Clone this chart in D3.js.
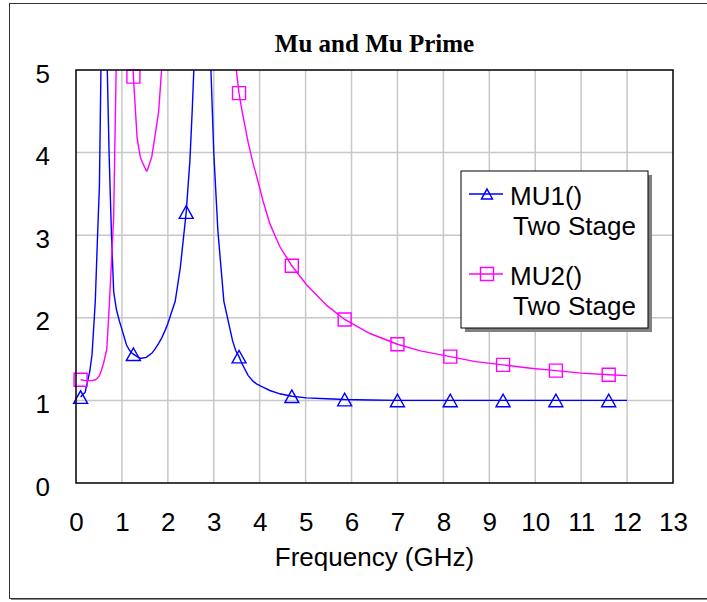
<!DOCTYPE html>
<html>
<head>
<meta charset="utf-8">
<script src="https://cdn.jsdelivr.net/npm/d3@7"></script>
<style>
  body { margin: 0; background: #fff; }
  svg { display: block; }
  text { font-family: "Liberation Sans", Arial, sans-serif; fill: #000; }
  .title { font-family: "Liberation Serif", "Times New Roman", serif; font-weight: bold; }
</style>
</head>
<body>
<svg id="chart"></svg>
<script>
// data (GHz, value)
const freq = [0.1, 0.2, 0.3, 0.35, 0.42, 0.47, 0.51, 0.55, 0.6, 0.67, 0.72, 0.77, 0.82, 0.88,
  0.95, 1.0, 1.1, 1.15, 1.2, 1.25, 1.33, 1.4, 1.43, 1.53, 1.55, 1.65, 1.72, 1.8, 1.87, 1.95,
  2.0, 2.16, 2.27, 2.4, 2.48, 2.53, 2.58, 2.7, 2.85, 2.92, 3.0, 3.09, 3.22, 3.41, 3.48, 3.55,
  3.61, 3.75, 3.86, 3.93, 4.07, 4.22, 4.44, 4.7, 5.02, 5.46, 5.85, 6.4, 7.0, 7.5, 8.15, 8.7,
  9.3, 9.9, 10.45, 11.0, 11.6, 12.0];

const mu1 = [1.04, 1.1, 1.35, 1.56, 2.2, 3.0, 3.6, 5.3, 9.0, 5.3, 4.0, 3.05, 2.32, 2.1,
  1.95, 1.86, 1.67, 1.62, 1.58, 1.56, 1.53, 1.51, 1.51, 1.52, 1.53, 1.57, 1.62, 1.69, 1.76, 1.86,
  1.93, 2.2, 2.6, 3.28, 3.9, 4.5, 5.2, 8.0, 8.0, 5.3, 4.0, 3.05, 2.2, 1.72, 1.6, 1.53,
  1.45, 1.3, 1.23, 1.2, 1.16, 1.12, 1.08, 1.05, 1.03, 1.02, 1.01, 1.005, 1.0, 1.0, 1.0, 1.0,
  1.0, 1.0, 1.0, 1.0, 1.0, 1.0];

const mu2 = [1.25, 1.24, 1.24, 1.24, 1.25, 1.27, 1.3, 1.36, 1.45, 1.62, 2.1, 2.65, 3.22, 5.2,
  9.0, 9.5, 9.0, 8.0, 5.6, 4.92, 4.18, 3.95, 3.9, 3.78, 3.78, 3.95, 4.2, 4.5, 5.05, 6.5,
  7.5, 10, 12, 14, 14, 14, 14, 14, 12, 11, 10, 8.5, 7.0, 5.6, 5.05, 4.72,
  4.52, 4.12, 3.86, 3.72, 3.42, 3.14, 2.86, 2.63, 2.4, 2.15, 1.98, 1.81, 1.68, 1.6, 1.53, 1.47,
  1.43, 1.39, 1.36, 1.33, 1.31, 1.3];

// markers every 1.15 GHz
const markerFreq = [0.1, 1.25, 2.4, 3.55, 4.7, 5.85, 7.0, 8.15, 9.3, 10.45, 11.6];

const xTicks = d3.range(0, 14);
const yTicks = d3.range(0, 6);
const legendItems = [
  { name: "MU1()", sub: "Two Stage", color: "#0000ff", shape: "triangle" },
  { name: "MU2()", sub: "Two Stage", color: "#ff00ff", shape: "square" }
];

const W = 707, H = 602;
const margin = { top: 70, right: W - 673, bottom: H - 483, left: 76 };
const width  = W - margin.left - margin.right;
const height = H - margin.top - margin.bottom;

const root = d3.select("#chart").attr("width", W).attr("height", H);

// outer frame with shadow
root.append("rect").attr("x", 11).attr("y", 5).attr("width", 720).attr("height", 595)
  .attr("fill", "#888");
root.append("rect").attr("x", 9.5).attr("y", 3.5).attr("width", 720).attr("height", 595)
  .attr("fill", "#fff").attr("stroke", "#333").attr("stroke-width", 1);

const svg = root.append("g").attr("transform", `translate(${margin.left},${margin.top})`);

const x = d3.scaleLinear().domain([0, 13]).range([0, width]);
const y = d3.scaleLinear().domain([0, 5]).range([height, 0]);

// grid
svg.append("g").selectAll("line").data(xTicks.slice(1, -1)).join("line")
  .attr("x1", d => x(d)).attr("x2", d => x(d)).attr("y1", 0).attr("y2", height)
  .attr("stroke", "#c8c8c8").attr("stroke-width", 1.5);
svg.append("g").selectAll("line").data(yTicks.slice(1, -1)).join("line")
  .attr("y1", d => y(d)).attr("y2", d => y(d)).attr("x1", 0).attr("x2", width)
  .attr("stroke", "#c8c8c8").attr("stroke-width", 1.5);

// axes (labels only, the frame is drawn separately)
const xAxis = svg.append("g").attr("transform", `translate(0,${height})`)
  .call(d3.axisBottom(x).tickValues(xTicks).tickSize(0).tickPadding(0).tickFormat(d3.format("d")));
xAxis.select(".domain").remove();
xAxis.selectAll("text").attr("dy", null).attr("y", 48).attr("font-size", 26);

const yAxis = svg.append("g")
  .call(d3.axisLeft(y).tickValues(yTicks).tickSize(0).tickPadding(0).tickFormat(d3.format("d")));
yAxis.select(".domain").remove();
yAxis.selectAll("text").attr("dy", null).attr("x", -26).attr("y", 12).attr("font-size", 26);
svg.selectAll(".tick text").attr("fill", "#000").attr("font-family", '"Liberation Sans", Arial, sans-serif');

// axis title
svg.append("text")
  .attr("x", width / 2).attr("y", height + 83)
  .attr("text-anchor", "middle").attr("font-size", 26)
  .text("Frequency (GHz)");

// chart title
svg.append("text").attr("class", "title")
  .attr("x", width / 2).attr("y", -18)
  .attr("text-anchor", "middle").attr("font-size", 25)
  .text("Mu and Mu Prime");

// clip
svg.append("clipPath").attr("id", "plotClip")
  .append("rect").attr("width", width).attr("height", height);

const series = [
  { values: mu1, color: "#0000ff", shape: "triangle" },
  { values: mu2, color: "#ff00ff", shape: "square" }
];

const lineGen = (vals) => d3.line()
  .x((d, i) => x(freq[i]))
  .y(d => y(d))(vals);

const plot = svg.append("g").attr("clip-path", "url(#plotClip)");

function markerPath(shape, s) {
  if (shape === "triangle") {
    const h = s * 0.9;
    return `M${-s / 2},${h / 2}L0,${-h / 2}L${s / 2},${h / 2}Z`;
  }
  return `M${-s / 2},${-s / 2}H${s / 2}V${s / 2}H${-s / 2}Z`;
}

series.forEach(s => {
  plot.append("path")
    .attr("d", lineGen(s.values))
    .attr("fill", "none")
    .attr("stroke", s.color)
    .attr("stroke-width", 1.4);

  const pts = markerFreq
    .map(f => ({ f, v: s.values[freq.indexOf(f)] }))
    .filter(d => d.v <= 5);

  svg.append("g").selectAll("path").data(pts).join("path")
    .attr("transform", d => `translate(${x(d.f)},${y(d.v)})`)
    .attr("d", markerPath(s.shape, s.shape === "triangle" ? 14 : 13))
    .attr("fill", "none")
    .attr("stroke", s.color)
    .attr("stroke-width", 1.4);
});

// plot frame
svg.append("rect").attr("width", width).attr("height", height)
  .attr("fill", "none").attr("stroke", "#000").attr("stroke-width", 1.5);

// legend
const lg = root.append("g").attr("transform", "translate(461,171)");
lg.append("rect").attr("x", 4).attr("y", 4).attr("width", 187).attr("height", 157).attr("fill", "#808080");
lg.append("rect").attr("width", 187).attr("height", 157).attr("fill", "#fff")
  .attr("stroke", "#000").attr("stroke-width", 1);

legendItems.forEach((d, i) => {
  const g = lg.append("g").attr("transform", `translate(0,${23 + i * 80})`);
  g.append("line").attr("x1", 8).attr("x2", 42).attr("y1", 0).attr("y2", 0)
    .attr("stroke", d.color).attr("stroke-width", 1.4);
  g.append("path").attr("transform", "translate(26,0)")
    .attr("d", markerPath(d.shape, d.shape === "triangle" ? 11 : 13))
    .attr("fill", "none").attr("stroke", d.color).attr("stroke-width", 1.4);
  g.append("text").attr("x", 49).attr("y", 11).attr("font-size", 26).text(d.name);
  g.append("text").attr("x", 52).attr("y", 41).attr("font-size", 26).text(d.sub);
});
</script>
</body>
</html>
